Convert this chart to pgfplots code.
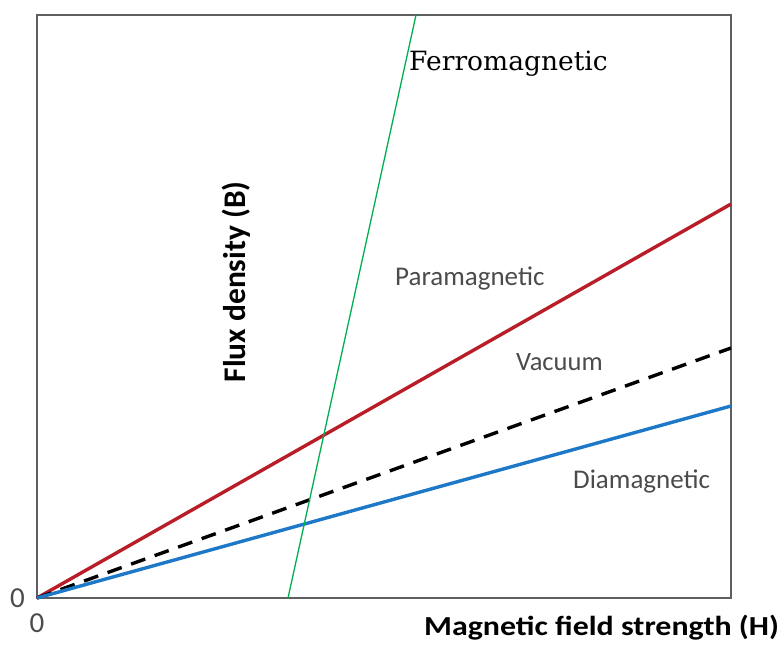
\documentclass[border=0pt]{standalone}
\usepackage{fontspec}
\setmainfont{Carlito}
\newfontfamily\serifdv{DejaVu Serif}
\usepackage{pgfplots}
\pgfplotsset{compat=1.18}
\definecolor{pmred}{RGB}{185,30,40}
\definecolor{dmblue}{RGB}{30,120,200}
\definecolor{fmgreen}{RGB}{0,175,80}
\definecolor{axgray}{RGB}{95,95,95}
\definecolor{txtgray}{RGB}{75,75,75}
\begin{document}
\begin{tikzpicture}
\path[use as bounding box] (-37pt,-48pt) rectangle (747pt,598pt);
\begin{axis}[
  at={(0pt,0pt)}, anchor=south west,
  scale only axis, width=694pt, height=583pt,
  xmin=0, xmax=694, ymin=0, ymax=583,
  xtick={0}, ytick={0},
  major tick length=0pt,
  axis line style={draw=axgray, line width=1.4pt},
  /pgf/number format/assume math mode=true,
  ticklabel style={font=\fontsize{29}{29}\selectfont, text=txtgray, inner sep=0pt},
  yticklabel style={xshift=-12pt},
  xticklabel style={yshift=-15pt},
  clip=false,
]
\addplot[pmred, line width=3.4pt] coordinates {(0,0) (694,394)};
\addplot[black, line width=3.4pt, dash pattern=on 15pt off 10pt] coordinates {(0,0) (694,250)};
\addplot[dmblue, line width=3.4pt] coordinates {(0,0) (694,192)};
\addplot[fmgreen, line width=1.3pt] coordinates {(251,0) (379,583)};
\end{axis}
\node[anchor=base west, inner sep=0pt, font=\serifdv\fontsize{26.5}{26.5}\selectfont] at (372pt,527pt) {Ferromagnetic};
\node[anchor=base west, inner sep=0pt, text=txtgray, font=\fontsize{27}{27}\selectfont] at (358pt,312pt) {Paramagnetic};
\node[anchor=base west, inner sep=0pt, text=txtgray, font=\fontsize{26.5}{26.5}\selectfont] at (479pt,228pt) {Vacuum};
\node[anchor=base west, inner sep=0pt, text=txtgray, font=\fontsize{27}{27}\selectfont] at (536pt,110pt) {Diamagnetic};
\node[anchor=base, rotate=90, inner sep=0pt, font=\bfseries\fontsize{31.5}{31.5}\selectfont] at (208pt,316pt) {Flux density (B)};
\node[anchor=base west, inner sep=0pt, xscale=1.16, font=\bfseries\fontsize{27.5}{27.5}\selectfont] at (387pt,-37pt) {Magnetic field strength (H)};
\end{tikzpicture}
\end{document}
